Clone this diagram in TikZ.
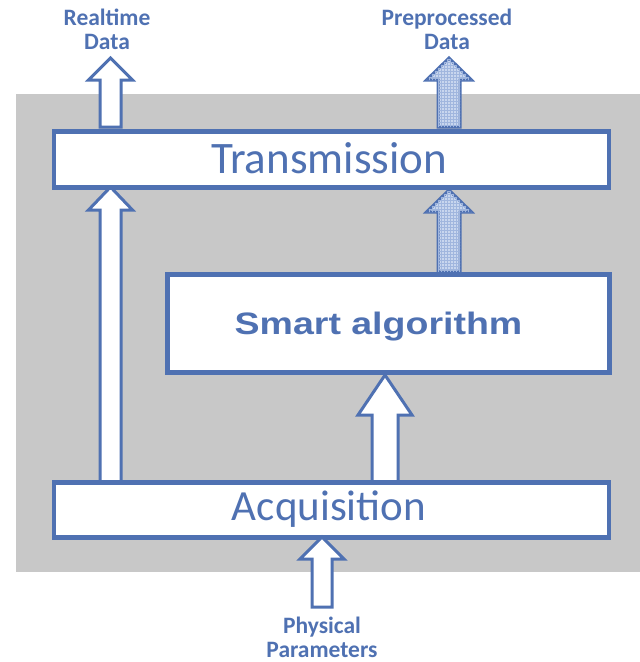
\documentclass[tikz,border=0pt]{standalone}
\usepackage{fontspec}
\setmainfont{Carlito}
\newfontfamily\arialfam{Liberation Sans}
\usetikzlibrary{patterns}
\definecolor{lineblue}{RGB}{79,113,178}
\definecolor{panelgrey}{RGB}{200,200,200}
\definecolor{hatchfill}{RGB}{200,214,238}
\definecolor{hatchline}{RGB}{160,182,222}
\tikzset{
  box/.style={draw=lineblue, line width=4.5pt, fill=white, inner sep=0pt},
  plainarrow/.style={draw=lineblue, line width=3pt, fill=white, line join=miter},
  hatcharrow/.style={draw=lineblue, line width=3pt, fill=hatchfill, line join=miter,
    postaction={pattern=grid, pattern color=hatchline}},
  caption/.style={font=\bfseries\fontsize{23.5}{24}\selectfont, text=lineblue, align=center, inner sep=0pt},
}
% upward block arrow: style, centre x, bottom y, tip y, shaft half width, head half width, head length
\newcommand{\blockup}[7]{%
  \draw[#1] (#2-#5,#3) -- (#2-#5,#4+#7) -- (#2-#6,#4+#7) -- (#2,#4)
    -- (#2+#6,#4+#7) -- (#2+#5,#4+#7) -- (#2+#5,#3) -- cycle;}
\begin{document}
\begin{tikzpicture}[x=1pt,y=-1pt]
  \useasboundingbox (0,0) rectangle (640,662);
  % grey panel behind the processing stages
  \fill[panelgrey] (16,94) rectangle (640,572);

  % arrows inside the panel
  \blockup{plainarrow}{110.5}{483}{187}{10.5}{22}{23}
  \blockup{plainarrow}{385}{483}{375}{13}{27}{40}
  \blockup{hatcharrow}{449}{272}{190}{11}{22.5}{22}

  % processing stages
  \node[box, minimum width=555pt, minimum height=56pt, anchor=north west] (trans) at (51.5,129) {};
  \node[text=lineblue, font=\fontsize{45}{50}\selectfont] at (329,158) {Transmission};
  \node[box, minimum width=442pt, minimum height=98pt, anchor=north west] (smart) at (165,272) {};
  \node[text=lineblue, font=\arialfam\bfseries\fontsize{31}{36}\selectfont, xscale=1.21] at (378.5,327) {Smart algorithm};
  \node[box, minimum width=555pt, minimum height=55pt, anchor=north west] (acq) at (51.5,480) {};
  \node[text=lineblue, font=\fontsize{43}{48}\selectfont] at (329,509) {Acquisition};

  % outputs and input
  \blockup{plainarrow}{110.5}{127}{58}{10.5}{22}{22}
  \blockup{hatcharrow}{449}{127}{58}{11}{22.5}{22}
  \blockup{plainarrow}{322}{607}{537}{10}{22}{22}

  \node[caption] (rt) at (107,29) {Realtime\\Data};
  \node[caption] (pp) at (447,29) {Preprocessed\\Data};
  \node[caption] (ph) at (322,637) {Physical\\Parameters};
\end{tikzpicture}
\end{document}
